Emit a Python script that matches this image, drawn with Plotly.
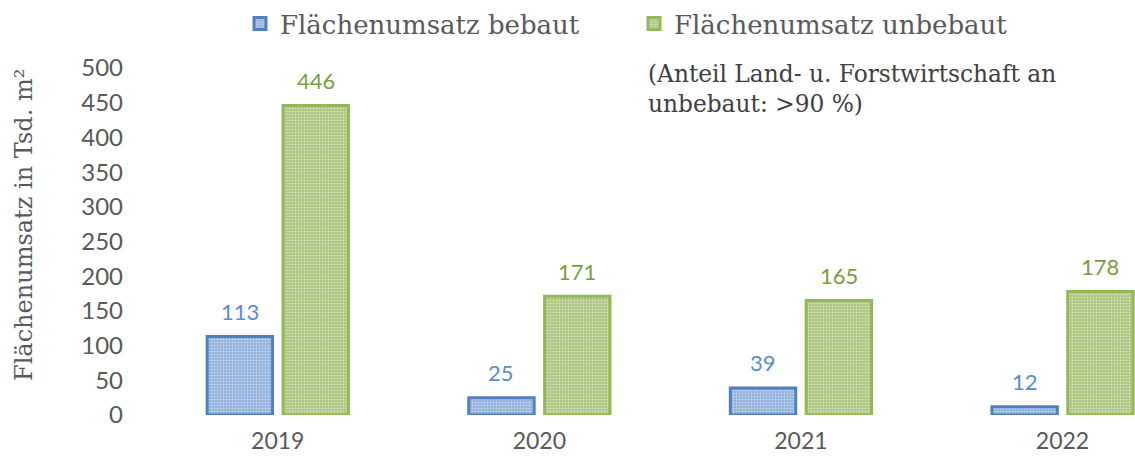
import plotly.graph_objects as go

years = ["2019", "2020", "2021", "2022"]
bebaut = [113, 25, 39, 12]
unbebaut = [446, 171, 165, 178]
y_ticks = [0, 50, 100, 150, 200, 250, 300, 350, 400, 450, 500]

BLUE = "#4F7FBF"
GREEN = "#93B857"
BLUE_TXT = "#5B8BC9"
GREEN_TXT = "#7A9C3C"
GREY = "#595959"
SERIF = "DejaVu Serif"
SANS = "Lato"

BAR_W = 0.25
PLOT_L, PLOT_T, PLOT_B = 147, 68, 415
PLOT_W, PLOT_H = 1135 - PLOT_L, PLOT_B - PLOT_T


def px_x(px):
    return (px - PLOT_L) / PLOT_W


def px_y(py):
    return (PLOT_B - py) / PLOT_H


fig = go.Figure()
fig.add_trace(go.Bar(
    x=years, y=bebaut, name="Flächenumsatz bebaut",
    width=BAR_W, offset=-0.27,
    marker=dict(
        color="#A9C2E4",
        line=dict(color=BLUE, width=3),
        pattern=dict(shape=".", fgcolor="white", bgcolor="#8FAEDB",
                     size=3, solidity=0.4, fillmode="overlay"),
    ),
))
fig.add_trace(go.Bar(
    x=years, y=unbebaut, name="Flächenumsatz unbebaut",
    width=BAR_W, offset=0.02,
    marker=dict(
        color="#BDD197",
        line=dict(color=GREEN, width=3),
        pattern=dict(shape=".", fgcolor="white", bgcolor="#A9C47A",
                     size=3, solidity=0.4, fillmode="overlay"),
    ),
))

# value labels above each bar
for i, (b, u) in enumerate(zip(bebaut, unbebaut)):
    fig.add_annotation(x=i - 0.145, y=b, text=str(b), showarrow=False,
                       yshift=25, font=dict(family=SANS, size=22, color=BLUE_TXT))
    fig.add_annotation(x=i + 0.145, y=u, text=str(u), showarrow=False,
                       yshift=25, font=dict(family=SANS, size=22, color=GREEN_TXT))

# explanatory note
fig.add_annotation(
    xref="paper", yref="paper", x=px_x(646), y=px_y(89),
    xanchor="left", yanchor="middle", align="left", showarrow=False,
    text="(Anteil Land- u. Forstwirtschaft an<br>unbebaut: >90 %)",
    font=dict(family=SERIF, size=23.3, color="#404040"),
)

# y-axis title
fig.add_annotation(
    xref="paper", yref="paper", x=0, xshift=24 - PLOT_L, y=px_y(225),
    xanchor="center", yanchor="middle", showarrow=False, textangle=-90,
    text="Flächenumsatz in Tsd. m²",
    font=dict(family=SERIF, size=24, color=GREY),
)

fig.update_layout(
    width=1135, height=462,
    margin=dict(l=PLOT_L, r=0, t=PLOT_T, b=462 - PLOT_B),
    paper_bgcolor="white", plot_bgcolor="white",
    barmode="overlay",
    showlegend=True,
    legend=dict(orientation="h", x=px_x(240), xanchor="left",
                y=px_y(0), yanchor="top",
                entrywidth=349, entrywidthmode="pixels",
                font=dict(family=SERIF, size=26, color=GREY),
                itemwidth=30),
    xaxis=dict(range=[-0.5, 3.277], showgrid=False, showline=False,
               ticklabelstandoff=10,
               tickfont=dict(family=SANS, size=23, color=GREY)),
    yaxis=dict(range=[0, 500], tickvals=y_ticks, showgrid=False,
               showline=False, zeroline=False, ticklabelstandoff=23,
               tickfont=dict(family=SANS, size=24, color=GREY)),
)

fig.write_html("out.html")
